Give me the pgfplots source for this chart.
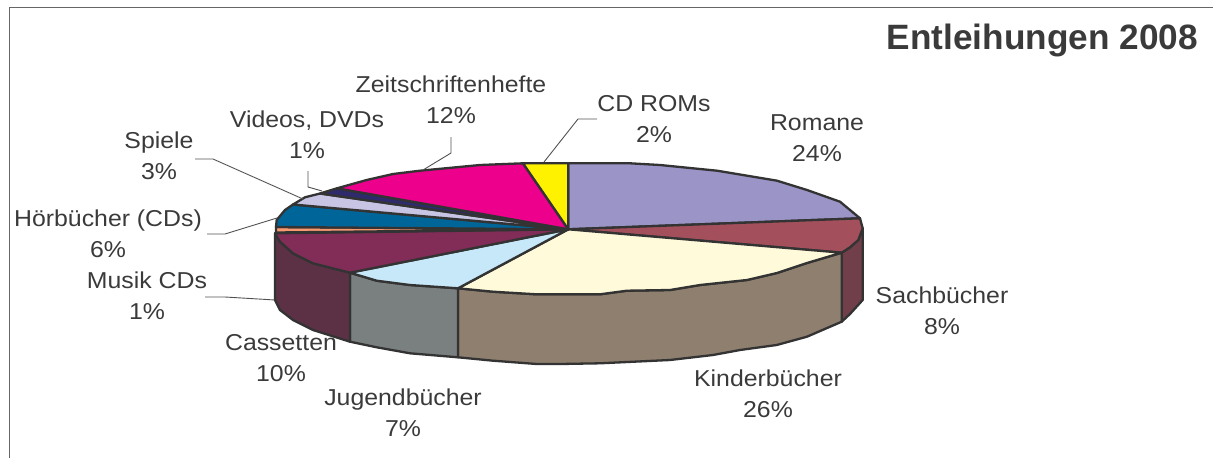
\documentclass[border=0pt]{standalone}
\usepackage{pgfplots}
\pgfplotsset{compat=1.18}
\usepackage{fontspec}
\setmainfont{Liberation Sans}
\newfontfamily\lab[FakeStretch=1.08]{Liberation Sans}
\definecolor{ln}{HTML}{333333}
\definecolor{tx}{HTML}{3A3A3A}
\begin{document}
\begin{tikzpicture}[x=1pt,y=1pt]
\useasboundingbox (0,0) rectangle (1213,458);
\begin{axis}[at={(0,0)},anchor=south west,width=1213pt,height=458pt,scale only axis,
 xmin=0,xmax=1213,ymin=0,ymax=458,y dir=reverse,hide axis,clip=false,
 every axis plot/.append style={line join=round,line width=2.3pt,draw=ln}]
% frame
\addplot[line width=1.6pt,draw=ln!75] coordinates {(9.5,458)(9.5,7.5)(1213,7.5)};
% walls
\addplot[fill={rgb,255:red,113;green,63;blue,74}] coordinates {(841.7,252.7)(850,247.3)(858.3,240)(862.7,228.3)(862.7,300)(850,314)(841.7,321.7)} -- cycle;
\addplot[fill={rgb,255:red,143;green,127;blue,110}] coordinates {(841.7,252.7)(807,263)(777,273)(747,280)(700,285)(670,290)(627,290.7)(600,294.3)(560,294.3)(536.7,294.3)(493,291.7)(458,288.3)(458,357.3)(493,360.7)(536.7,364)(560,364)(600,363.3)(670,360)(713,355)(740,350)(776.7,345)(807,336.7)(841.7,321.7)} -- cycle;
\addplot[fill={rgb,255:red,122;green,127;blue,127}] coordinates {(458,288.3)(410,285)(376.7,280.7)(350,272.7)(350,341.7)(376.7,347.3)(410,353.3)(458,357.3)} -- cycle;
\addplot[fill={rgb,255:red,92;green,49;blue,69}] coordinates {(350,272.7)(313,263.3)(293,253.3)(280,241.7)(275,233.3)(275,300)(280,310)(293,320)(313,330)(350,341.7)} -- cycle;
% top
\addplot[fill={rgb,255:red,155;green,148;blue,199}] coordinates {(568.3,229.3)(568.3,163.3)(630,163.3)(660,165)(717,170.7)(743,175)(777,180.7)(807,190)(840,201.7)(860,218.3)} -- cycle;
\addplot[fill={rgb,255:red,163;green,80;blue,92}] coordinates {(568.3,229.3)(860,218.3)(862.7,228.3)(858.3,240)(850,247.3)(841.7,252.7)} -- cycle;
\addplot[fill={rgb,255:red,255;green,250;blue,217}] coordinates {(568.3,229.3)(841.7,252.7)(807,263)(777,273)(747,280)(700,285)(670,290)(627,290.7)(600,294.3)(560,294.3)(536.7,294.3)(493,291.7)(458,288.3)} -- cycle;
\addplot[fill={rgb,255:red,198;green,232;blue,248}] coordinates {(568.3,229.3)(458,288.3)(410,285)(376.7,280.7)(350,272.7)} -- cycle;
\addplot[fill={rgb,255:red,130;green,44;blue,88}] coordinates {(568.3,229.3)(350,272.7)(313,263.3)(293,253.3)(280,241.7)(275,233.3)} -- cycle;
\addplot[fill={rgb,255:red,247;green,154;blue,113}] coordinates {(568.3,229.3)(276,232.5)(276,227)} -- cycle;
\addplot[fill={rgb,255:red,0;green,102;blue,153}] coordinates {(568.3,229.3)(276,227)(276.7,220)(285,210)(293,204.5)} -- cycle;
\addplot[fill={rgb,255:red,199;green,196;blue,228}] coordinates {(568.3,229.3)(293,204.5)(305,197.3)(320,193.5)} -- cycle;
\addplot[fill={rgb,255:red,46;green,42;blue,107}] coordinates {(568.3,229.3)(320,193.5)(337,188.3)} -- cycle;
\addplot[fill={rgb,255:red,236;green,0;blue,140}] coordinates {(568.3,229.3)(337,188.3)(366.7,180)(393,174)(420,170.7)(480,165)(523,163.3)} -- cycle;
\addplot[fill={rgb,255:red,255;green,242;blue,0}] coordinates {(568.3,229.3)(523,163.3)(568.3,163.3)} -- cycle;
% leaders
\addplot[line width=.9pt,draw=ln!85] coordinates {(597,119)(578,119)(544,162)};
\addplot[line width=.9pt,draw=ln!85] coordinates {(451,137)(451,153)(423,170)};
\addplot[line width=.9pt,draw=ln!85] coordinates {(308,171)(308,187)(322,191)};
\addplot[line width=.9pt,draw=ln!85] coordinates {(195,159)(213,159)(303,199)};
\addplot[line width=.9pt,draw=ln!85] coordinates {(207,234)(225,234)(277,218)};
\addplot[line width=.9pt,draw=ln!85] coordinates {(205,297)(225,297)(275,300)};
% labels
\begin{scope}[every node/.style={text=tx,font=\lab\fontsize{23}{31}\selectfont,align=center,inner sep=0pt}]
\node at (axis cs:817,138) {Romane\\24\%};
\node at (axis cs:942,311) {Sachbücher\\8\%};
\node at (axis cs:768,394) {Kinderbücher\\26\%};
\node at (axis cs:403,413) {Jugendbücher\\7\%};
\node at (axis cs:281,358) {Cassetten\\10\%};
\node at (axis cs:147,296) {Musik CDs\\1\%};
\node at (axis cs:108,234) {Hörbücher (CDs)\\6\%};
\node at (axis cs:159,156) {Spiele\\3\%};
\node at (axis cs:307,135) {Videos, DVDs\\1\%};
\node at (axis cs:451,100) {Zeitschriftenhefte\\12\%};
\node at (axis cs:654,119) {CD ROMs\\2\%};
\end{scope}
\node[text=tx,font=\bfseries\fontsize{35.2}{40}\selectfont,anchor=east,inner sep=0pt] at (axis cs:1198,40) {Entleihungen 2008};
\end{axis}
\end{tikzpicture}
\end{document}
